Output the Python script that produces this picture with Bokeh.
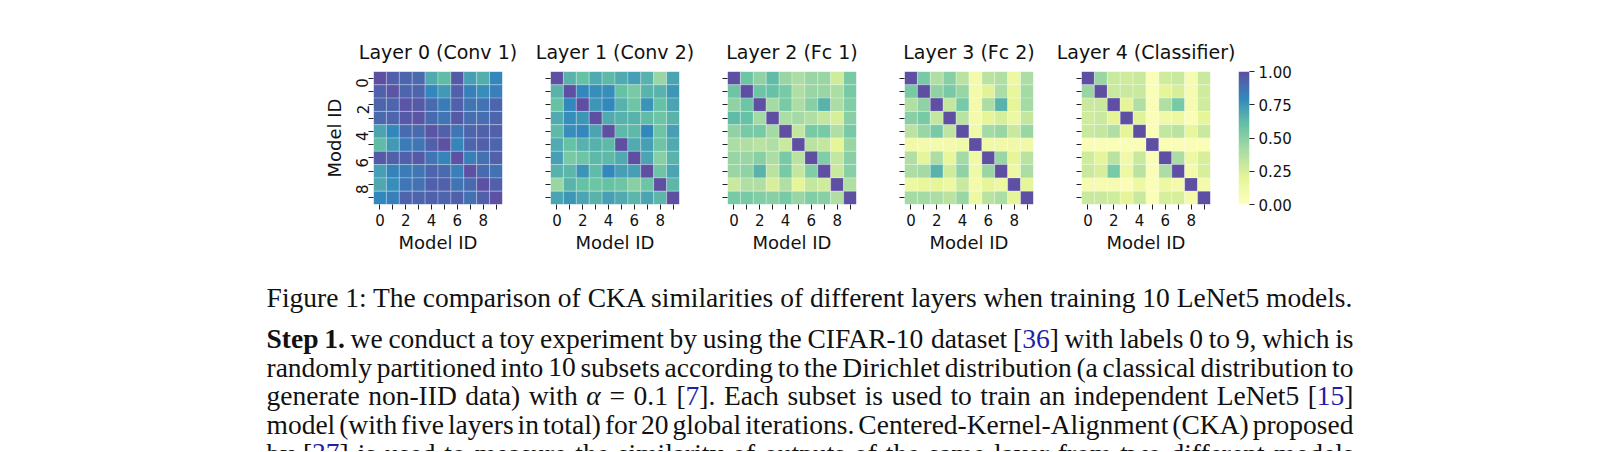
import math
import re
import numpy as np
from bokeh.plotting import figure
from bokeh.models import (ColumnDataSource, LinearColorMapper, FixedTicker, Range1d,
                          LinearAxis, PrintfTickFormatter)
from bokeh.layouts import row, column
from bokeh.transform import transform
from bokeh.core.properties import value
from bokeh.embed import file_html
from bokeh.resources import INLINE

# ---------------- data ----------------
model_ids = list(range(10))
titles = ["Layer 0 (Conv 1)", "Layer 1 (Conv 2)", "Layer 2 (Fc 1)",
          "Layer 3 (Fc 2)", "Layer 4 (Classifier)"]
axis_label = "Model ID"
cbar_ticks = [0.0, 0.25, 0.5, 0.75, 1.0]

layer0 = [
    [1.00, 0.94, 0.92, 0.91, 0.68, 0.62, 0.96, 0.72, 0.67, 0.80],
    [0.94, 0.98, 0.92, 0.92, 0.80, 0.74, 0.94, 0.83, 0.78, 0.83],
    [0.92, 0.92, 0.98, 0.96, 0.90, 0.84, 0.94, 0.87, 0.87, 0.92],
    [0.91, 0.92, 0.96, 0.98, 0.90, 0.86, 0.96, 0.89, 0.89, 0.92],
    [0.70, 0.80, 0.90, 0.90, 0.98, 0.94, 0.86, 0.92, 0.94, 0.94],
    [0.62, 0.74, 0.84, 0.86, 0.94, 0.99, 0.81, 0.92, 0.94, 0.92],
    [0.96, 0.94, 0.94, 0.96, 0.86, 0.81, 0.99, 0.83, 0.88, 0.94],
    [0.72, 0.82, 0.84, 0.86, 0.92, 0.90, 0.83, 0.99, 0.90, 0.88],
    [0.69, 0.78, 0.86, 0.88, 0.94, 0.94, 0.87, 0.90, 0.99, 0.94],
    [0.80, 0.83, 0.92, 0.92, 0.94, 0.92, 0.94, 0.88, 0.94, 0.99],
]
layer1 = [
    [1.00, 0.65, 0.60, 0.68, 0.63, 0.68, 0.72, 0.66, 0.45, 0.70],
    [0.65, 1.00, 0.80, 0.78, 0.78, 0.60, 0.55, 0.65, 0.65, 0.75],
    [0.60, 0.80, 1.00, 0.75, 0.80, 0.66, 0.58, 0.76, 0.60, 0.70],
    [0.68, 0.78, 0.75, 1.00, 0.68, 0.66, 0.65, 0.62, 0.58, 0.65],
    [0.63, 0.78, 0.80, 0.70, 1.00, 0.63, 0.63, 0.80, 0.58, 0.72],
    [0.68, 0.60, 0.66, 0.66, 0.63, 1.00, 0.68, 0.72, 0.58, 0.68],
    [0.72, 0.55, 0.58, 0.63, 0.63, 0.68, 1.00, 0.70, 0.50, 0.65],
    [0.66, 0.64, 0.76, 0.62, 0.80, 0.72, 0.72, 1.00, 0.58, 0.70],
    [0.45, 0.65, 0.60, 0.58, 0.60, 0.58, 0.50, 0.58, 1.00, 0.64],
    [0.70, 0.75, 0.70, 0.65, 0.72, 0.68, 0.64, 0.70, 0.64, 1.00],
]
layer2 = [
    [1.00, 0.58, 0.48, 0.62, 0.45, 0.40, 0.45, 0.45, 0.28, 0.55],
    [0.58, 1.00, 0.58, 0.60, 0.55, 0.38, 0.45, 0.45, 0.40, 0.55],
    [0.48, 0.58, 1.00, 0.42, 0.55, 0.40, 0.50, 0.65, 0.40, 0.52],
    [0.62, 0.60, 0.42, 1.00, 0.40, 0.42, 0.38, 0.32, 0.25, 0.50],
    [0.48, 0.55, 0.55, 0.42, 1.00, 0.32, 0.55, 0.55, 0.38, 0.55],
    [0.40, 0.38, 0.35, 0.38, 0.30, 1.00, 0.35, 0.32, 0.20, 0.45],
    [0.46, 0.45, 0.50, 0.40, 0.55, 0.35, 1.00, 0.52, 0.32, 0.50],
    [0.45, 0.48, 0.65, 0.35, 0.55, 0.32, 0.52, 1.00, 0.30, 0.50],
    [0.30, 0.38, 0.38, 0.25, 0.38, 0.20, 0.32, 0.28, 1.00, 0.38],
    [0.55, 0.55, 0.52, 0.50, 0.55, 0.45, 0.52, 0.50, 0.38, 1.00],
]
layer3 = [
    [1.00, 0.55, 0.38, 0.50, 0.35, 0.10, 0.35, 0.38, 0.15, 0.40],
    [0.55, 1.00, 0.48, 0.55, 0.45, 0.10, 0.22, 0.40, 0.18, 0.42],
    [0.38, 0.48, 1.00, 0.32, 0.55, 0.10, 0.40, 0.65, 0.20, 0.42],
    [0.50, 0.55, 0.32, 1.00, 0.35, 0.10, 0.20, 0.25, 0.15, 0.32],
    [0.35, 0.45, 0.55, 0.33, 1.00, 0.12, 0.42, 0.45, 0.30, 0.45],
    [0.12, 0.10, 0.10, 0.10, 0.12, 1.00, 0.12, 0.12, 0.12, 0.12],
    [0.38, 0.20, 0.40, 0.18, 0.42, 0.12, 1.00, 0.45, 0.20, 0.35],
    [0.40, 0.42, 0.65, 0.28, 0.48, 0.12, 0.45, 1.00, 0.15, 0.40],
    [0.15, 0.18, 0.20, 0.15, 0.30, 0.10, 0.20, 0.15, 1.00, 0.20],
    [0.42, 0.42, 0.40, 0.35, 0.45, 0.15, 0.35, 0.40, 0.20, 1.00],
]
layer4 = [
    [1.00, 0.45, 0.30, 0.28, 0.30, 0.05, 0.28, 0.30, 0.08, 0.30],
    [0.45, 1.00, 0.30, 0.30, 0.30, 0.05, 0.20, 0.25, 0.08, 0.28],
    [0.30, 0.30, 1.00, 0.20, 0.38, 0.05, 0.38, 0.55, 0.08, 0.28],
    [0.28, 0.30, 0.20, 1.00, 0.22, 0.05, 0.12, 0.15, 0.05, 0.20],
    [0.30, 0.32, 0.38, 0.20, 1.00, 0.05, 0.32, 0.35, 0.18, 0.30],
    [0.05, 0.05, 0.05, 0.05, 0.05, 1.00, 0.05, 0.05, 0.05, 0.05],
    [0.28, 0.20, 0.35, 0.12, 0.30, 0.05, 1.00, 0.40, 0.15, 0.25],
    [0.30, 0.25, 0.55, 0.15, 0.35, 0.05, 0.40, 1.00, 0.10, 0.25],
    [0.08, 0.08, 0.08, 0.05, 0.15, 0.05, 0.15, 0.10, 1.00, 0.10],
    [0.30, 0.30, 0.28, 0.20, 0.30, 0.05, 0.25, 0.25, 0.10, 1.00],
]
layers = [layer0, layer1, layer2, layer3, layer4]

caption = ("Figure 1: The comparison of CKA similarities of different layers "
           "when training 10 LeNet5 models.")
# markup: **bold**, {blue citation}, _italic_
para_lines = [
    "**Step** **1.** we conduct a toy experiment by using the CIFAR-10 dataset [{36}] with labels 0 to 9, which is",
    "randomly partitioned into 10 subsets according to the Dirichlet distribution (a classical distribution to",
    "generate non-IID data) with _α_ = 0.1 [{7}]. Each subset is used to train an independent LeNet5 [{15}]",
    "model (with five layers in total) for 20 global iterations. Centered-Kernel-Alignment (CKA) proposed",
    "by [{37}] is used to measure the similarity of outputs of the same layer from two different models",
]

# ---------------- colour map ----------------
anchors = [(0.0, "#ffffbf"), (0.2, "#e6f598"), (0.4, "#abdda4"),
           (0.6, "#66c2a5"), (0.8, "#3288bd"), (1.0, "#5e4fa2")]


def _rgb(h):
    return [int(h[i:i + 2], 16) for i in (1, 3, 5)]


palette = []
for i in range(256):
    t = i / 255
    for (t0, c0), (t1, c1) in zip(anchors[:-1], anchors[1:]):
        if t0 <= t <= t1:
            f = (t - t0) / (t1 - t0)
            a, b = _rgb(c0), _rgb(c1)
            palette.append("#%02x%02x%02x" % tuple(round(a[k] + (b[k] - a[k]) * f) for k in range(3)))
            break
mapper = LinearColorMapper(palette=palette, low=0, high=1)

# ---------------- layout constants ----------------
FW, FH = 129, 133
TB, BB = 71, 55
H = TB + FH + BB
# (left border, right border) per heatmap figure
borders = [(373, 24), (24, 24), (24, 24), (24, 20), (28, 26)]
SANS = "DejaVu Sans"
TICK_FS = "15px"
LAB_FS = "18px"
TITLE_FS = "19px"


def style_axis(ax, show_labels=True):
    ax.ticker = FixedTicker(ticks=model_ids)
    ax.major_label_overrides = {i: (str(i) if (show_labels and i % 2 == 0) else "") for i in model_ids}
    ax.axis_line_color = None
    ax.minor_tick_line_color = None
    ax.major_tick_out = 5
    ax.major_tick_in = 0
    ax.major_tick_line_color = "#222222"
    ax.major_tick_line_width = 1
    ax.major_label_text_font = SANS
    ax.major_label_text_font_size = TICK_FS
    ax.major_label_text_color = "#111111"
    ax.major_label_standoff = 4
    ax.axis_label_text_font = SANS
    ax.axis_label_text_font_size = LAB_FS
    ax.axis_label_text_font_style = "normal"
    ax.axis_label_text_color = "#111111"
    ax.axis_label_standoff = 3


def heat(mat, title, left, right, first):
    p = figure(width=left + FW + right, height=H,
               x_range=Range1d(-0.5, 9.5), y_range=Range1d(9.5, -0.5),
               toolbar_location=None, output_backend="svg",
               min_border_left=left, min_border_right=right,
               min_border_top=TB, min_border_bottom=BB, title=title)
    xs, ys, vs = [], [], []
    for r in model_ids:
        for c in model_ids:
            xs.append(c)
            ys.append(r)
            vs.append(mat[r][c])
    src = ColumnDataSource(dict(x=xs, y=ys, v=vs))
    p.rect("x", "y", 1, 1, source=src, fill_color=transform("v", mapper),
           line_color="white", line_alpha=0.45, line_width=0.6)
    p.title.text_font = SANS
    p.title.text_font_size = TITLE_FS
    p.title.text_font_style = "normal"
    p.title.text_color = "#111111"
    p.title.align = "center"
    p.title.standoff = 18
    p.grid.visible = False
    p.outline_line_color = None
    style_axis(p.xaxis[0])
    p.xaxis[0].axis_label = axis_label
    style_axis(p.yaxis[0], show_labels=first)
    if first:
        p.yaxis[0].axis_label = axis_label
        p.yaxis[0].major_label_orientation = math.pi / 2
        p.yaxis[0].major_label_standoff = 6
    return p


figs = []
for k, (mat, t) in enumerate(zip(layers, titles)):
    lb, rb = borders[k]
    figs.append(heat(mat, t, lb, rb, k == 0))

# colour bar
cb = figure(width=2 + 11 + 60, height=H, x_range=Range1d(0, 1), y_range=Range1d(0, 1),
            toolbar_location=None, output_backend="svg",
            min_border_left=2, min_border_right=60, min_border_top=TB, min_border_bottom=BB,
            x_axis_location=None, y_axis_location=None)
cb.image(image=[np.linspace(0, 1, 256).reshape(256, 1)], x=0, y=0, dw=1, dh=1, color_mapper=mapper)
cax = LinearAxis(ticker=FixedTicker(ticks=cbar_ticks), formatter=PrintfTickFormatter(format="%.2f"))
cax.axis_line_color = None
cax.minor_tick_line_color = None
cax.major_tick_out = 5
cax.major_tick_in = 0
cax.major_tick_line_color = "#222222"
cax.major_label_text_font = SANS
cax.major_label_text_font_size = TICK_FS
cax.major_label_text_color = "#111111"
cax.major_label_standoff = 4
cb.add_layout(cax, "right")
cb.grid.visible = False
cb.outline_line_color = None

# ---------------- text block ----------------
TOTAL_H = 451
TXT_H = TOTAL_H - H
TOP = H  # page y of text figure top
FS = 27.5
SERIF = "Liberation Serif"

W_N = {' ': 250, '!': 333, '(': 333, ')': 333, ',': 250, '-': 333, '.': 250, ':': 278,
       '=': 564, '[': 333, ']': 333,
       'A': 722, 'B': 667, 'C': 667, 'D': 722, 'E': 611, 'F': 556, 'G': 722, 'H': 722, 'I': 333,
       'J': 389, 'K': 722, 'L': 611, 'M': 889, 'N': 722, 'O': 722, 'P': 556, 'Q': 722, 'R': 667,
       'S': 556, 'T': 611, 'U': 722, 'V': 722, 'W': 944, 'X': 722, 'Y': 722, 'Z': 611,
       'a': 444, 'b': 500, 'c': 444, 'd': 500, 'e': 444, 'f': 333, 'g': 500, 'h': 500, 'i': 278,
       'j': 278, 'k': 500, 'l': 278, 'm': 778, 'n': 500, 'o': 500, 'p': 500, 'q': 500, 'r': 333,
       's': 389, 't': 278, 'u': 500, 'v': 500, 'w': 722, 'x': 500, 'y': 500, 'z': 444, 'α': 540}
for d in "0123456789":
    W_N[d] = 500
W_B = dict(W_N)
W_B.update({'S': 556, 't': 333, 'e': 444, 'p': 556, '1': 500, '.': 250})


def seg_w(s, st):
    tab = W_B if st == "b" else W_N
    return sum(tab.get(ch, 500) for ch in s) / 1000.0 * FS


tok_re = re.compile(r"\*\*(.+?)\*\*|\{(.+?)\}|_(.+?)_|([^*{_]+)")


def parse_word(w):
    segs = []
    for m in tok_re.finditer(w):
        if m.group(1):
            segs.append((m.group(1), "b"))
        elif m.group(2):
            segs.append((m.group(2), "c"))
        elif m.group(3):
            segs.append((m.group(3), "i"))
        else:
            segs.append((m.group(4), "n"))
    return segs


X0, X1 = 266, 1353
base0, lead = 338 - TOP, 28.7
styles = {"n": dict(x=[], y=[], t=[]), "b": dict(x=[], y=[], t=[]),
          "c": dict(x=[], y=[], t=[]), "i": dict(x=[], y=[], t=[])}
for li, line in enumerate(para_lines):
    words = [parse_word(w) for w in line.split(" ")]
    widths = [sum(seg_w(s, st) for s, st in w) for w in words]
    gap = (X1 - X0 - sum(widths)) / (len(words) - 1)
    x = X0
    yb = base0 + li * lead
    for w, ww in zip(words, widths):
        xx = x
        for s, st in w:
            styles[st]["x"].append(xx)
            styles[st]["y"].append(yb)
            styles[st]["t"].append(s)
            xx += seg_w(s, st)
        x += ww + gap

tp = figure(width=1610, height=TXT_H, x_range=Range1d(0, 1610), y_range=Range1d(TXT_H, 0),
            toolbar_location=None, output_backend="svg", min_border=0,
            x_axis_location=None, y_axis_location=None)
tp.grid.visible = False
tp.outline_line_color = None
tp.text(x=[810], y=[297 - TOP], text=[caption], text_font=value(SERIF),
        text_font_size=f"{FS}px", text_align="center", text_baseline="alphabetic",
        text_color="#111111")
sty = {"n": ("normal", "#111111"), "b": ("bold", "#111111"),
       "c": ("normal", "#1f1fa8"), "i": ("italic", "#111111")}
for k, d in styles.items():
    if not d["t"]:
        continue
    fs, col = sty[k]
    tp.text(x="x", y="y", text="t", source=ColumnDataSource(d), text_font=value(SERIF),
            text_font_size=f"{FS}px", text_font_style=fs, text_color=col,
            text_align="left", text_baseline="alphabetic")

layout = column(row(*figs, cb), tp)
open("out.html", "w").write(file_html(layout, INLINE))
